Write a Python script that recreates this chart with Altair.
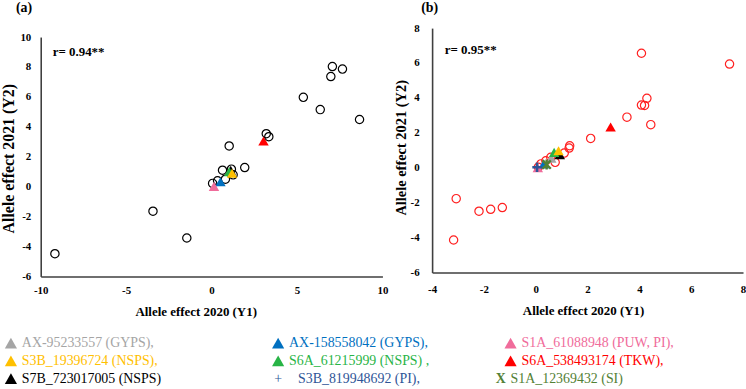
import altair as alt
import pandas as pd

FONT = "Liberation Serif"

# ---- panel (a): allele effects of all markers (open circles) ----
a_x = [-9.17, -3.43, -1.45, 1.03, 0.64, 1.16, 1.26, 1.94, 0.06, 0.35, 0.81,
       3.20, 3.35, 5.37, 6.36, 6.98, 7.07, 7.66, 8.66]
a_y = [-4.48, -1.64, -3.43, 2.72, 1.10, 1.17, 0.79, 1.28, 0.22, 0.39, 0.50,
       3.54, 3.34, 5.97, 5.15, 7.36, 8.03, 7.86, 4.49]

# ---- panel (b): allele effects of all markers (open red circles) ----
b_x = [-3.07, -3.17, -2.19, -1.74, -1.29, 4.08, 7.48, 4.29, 4.08, 4.20, 3.52,
       4.44, 2.12, 1.31, 1.29, 1.10, 0.75, 0.58, 0.39, 0.20, 0.10]
b_y = [-1.77, -4.14, -2.49, -2.38, -2.28, 6.56, 5.94, 3.98, 3.59, 3.57, 2.90,
       2.47, 1.68, 1.26, 1.13, 0.84, 0.31, 0.60, 0.40, 0.22, 0.03]

# ---- highlighted markers ----
markers = ["AX-95233557 (GYPS)", "S3B_19396724 (NSPS)", "S7B_723017005 (NSPS)",
           "AX-158558042 (GYPS)", "S6A_61215999 (NSPS)", "S3B_819948692 (PI)",
           "S1A_61088948 (PUW, PI)", "S6A_538493174 (TKW)", "S1A_12369432 (SI)"]
marker_colors = ["#a5a5a5", "#ffc000", "#000000",
                 "#0070c0", "#28b446", "#2f5597",
                 "#f06c9b", "#ff0000", "#538135"]
legend_labels = ["AX-95233557 (GYPS),", "S3B_19396724 (NSPS),", "S7B_723017005 (NSPS)",
                 "AX-158558042 (GYPS),", "S6A_61215999 (NSPS) ,", "S3B_819948692 (PI),",
                 "S1A_61088948 (PUW, PI),", "S6A_538493174 (TKW),", "S1A_12369432 (SI)"]
legend_glyph = ["tri", "tri", "tri", "tri", "tri", "plus", "tri", "tri", "x"]
legend_col = [0, 0, 0, 1, 1, 1, 2, 2, 2]
legend_row = [0, 1, 2, 0, 1, 2, 0, 1, 2]

# panel (a) triangles, in drawing order
a_tri_marker = ["AX-95233557 (GYPS)", "S7B_723017005 (NSPS)", "AX-158558042 (GYPS)",
                "S6A_61215999 (NSPS)", "S3B_19396724 (NSPS)", "S1A_61088948 (PUW, PI)",
                "S6A_538493174 (TKW)"]
a_tri_x = [1.08, 1.12, 0.52, 1.03, 1.20, 0.14, 3.04]
a_tri_y = [1.05, 1.10, 0.33, 0.99, 0.90, 0.02, 3.05]

# panel (b) triangles, in drawing order
b_tri_marker = ["AX-95233557 (GYPS)", "S7B_723017005 (NSPS)", "S6A_61215999 (NSPS)",
                "S3B_19396724 (NSPS)", "AX-158558042 (GYPS)", "S1A_61088948 (PUW, PI)",
                "S6A_538493174 (TKW)"]
b_tri_x = [0.60, 0.93, 0.71, 0.88, 0.31, 0.08, 2.89]
b_tri_y = [0.55, 0.75, 0.88, 0.97, 0.22, 0.00, 2.34]
b_plus_x, b_plus_y = [0.05], [0.03]
b_cross_x, b_cross_y = [0.42], [0.18]

r_a, r_b = "r= 0.94**", "r= 0.95**"
tag_a, tag_b = "(a)", "(b)"

color_scale = alt.Scale(domain=markers, range=marker_colors)


def axis(**kw):
    base = dict(grid=False, ticks=False, domainColor="#3f3f3f", domainWidth=1.6,
                labelFont=FONT, labelFontSize=11, labelFontWeight="bold",
                labelColor="black", labelExpr="datum.value + ''", labelOverlap=False,
                labelFlush=False, titleFont=FONT, titleFontSize=13,
                titleFontWeight="bold", titleColor="black", titleBaseline="middle")
    base.update(kw)
    return alt.Axis(**base)


def panel(cx, cy, circle_color, tri_m, tri_x, tri_y, rtext, rx, ry,
          tag, tag_dx, x_enc, y_enc, extra=()):
    circles = alt.Chart(pd.DataFrame({"x": cx, "y": cy})).mark_point(
        shape="circle", filled=False, size=70, strokeWidth=1.2, color=circle_color,
        opacity=1
    ).encode(x=x_enc, y=y_enc)
    tris = alt.Chart(pd.DataFrame({"x": tri_x, "y": tri_y, "marker": tri_m})).mark_point(
        shape="triangle-up", filled=True, size=110, opacity=1
    ).encode(x=x_enc, y=y_enc,
             color=alt.Color("marker:N", scale=color_scale, legend=None))
    rt = alt.Chart(pd.DataFrame({"x": [rx], "y": [ry], "t": [rtext]})).mark_text(
        align="left", baseline="middle", font=FONT, fontSize=13, fontWeight="bold",
        color="black"
    ).encode(x=x_enc, y=y_enc, text="t:N")
    # panel tag, drawn above the top-left corner of the plot
    tg = alt.Chart(pd.DataFrame({"t": [tag]})).mark_text(
        align="left", baseline="middle", font=FONT, fontSize=14, fontWeight="bold",
        color="black"
    ).encode(x=alt.value(tag_dx), y=alt.value(-20), text="t:N")
    return alt.layer(circles, tris, *extra, rt, tg)


# ---- panel (a): its y range starts 9 px below the panel top ----
xa = alt.X("x:Q", scale=alt.Scale(domain=[-10, 10], nice=False, zero=False),
           axis=axis(values=[-10, -5, 0, 5, 10], title="Allele effect 2020 (Y1)",
                     labelPadding=8, titleX=156, titleY=35))
ya = alt.Y("y:Q", scale=alt.Scale(domain=[-6, 10], nice=False, zero=False,
                                  range=[250, 9]),
           axis=axis(values=list(range(-6, 11, 2)), title="Allele effect 2021 (Y2)",
                     labelPadding=10, titleX=-32, titleY=131, titleFontSize=16))
panel_a = panel(a_x, a_y, "black", a_tri_marker, a_tri_x, a_tri_y,
                r_a, -9.3, 9.0, tag_a, -25, xa, ya).properties(width=344, height=250)

# ---- panel (b) ----
xb = alt.X("x:Q", scale=alt.Scale(domain=[-4, 8], nice=False, zero=False),
           axis=axis(values=list(range(-4, 9, 2)), title="Allele effect 2020 (Y1)",
                     labelPadding=11, titleX=152, titleY=38))
yb = alt.Y("y:Q", scale=alt.Scale(domain=[-6, 8], nice=False, zero=False),
           axis=axis(values=list(range(-6, 9, 2)), title="Allele effect 2021 (Y2)",
                     labelPadding=13, titleX=-31, titleY=120, titleFontSize=14.5))
plus_b = alt.Chart(pd.DataFrame({"x": b_plus_x, "y": b_plus_y,
                                 "marker": ["S3B_819948692 (PI)"]})).mark_point(
    shape="M-1,0L1,0M0,-1L0,1", filled=False, size=90, strokeWidth=2.6, opacity=1
).encode(x=xb, y=yb, color=alt.Color("marker:N", scale=color_scale, legend=None))
cross_b = alt.Chart(pd.DataFrame({"x": b_cross_x, "y": b_cross_y,
                                  "marker": ["S1A_12369432 (SI)"]})).mark_point(
    shape="M-1,-1L1,1M-1,1L1,-1M0,-1.2L0,1.2", filled=False, size=70, strokeWidth=2.4,
    opacity=1
).encode(x=xb, y=yb, color=alt.Color("marker:N", scale=color_scale, legend=None))
panel_b = panel(b_x, b_y, "#ff2020", b_tri_marker, b_tri_x, b_tri_y,
                r_b, -3.51, 6.75, tag_b, -11, xb, yb,
                extra=(plus_b, cross_b)).properties(width=313, height=246)

# ---- marker key below the panels (x positions relative to panel (a)'s plot) ----
leg = pd.DataFrame({"col": legend_col, "row": legend_row, "marker": markers,
                    "label": legend_labels, "glyph": legend_glyph})
lx = alt.X("col:Q", scale=alt.Scale(domain=[0, 1, 2], range=[-30, 239, 473]), axis=None)
ly = alt.Y("row:Q", scale=alt.Scale(domain=[-0.4, 2.4], reverse=True), axis=None)
lcol = alt.Color("marker:N", scale=color_scale, legend=None)
base = alt.Chart(leg).encode(x=lx, y=ly, color=lcol)
key_tri = base.transform_filter("datum.glyph == 'tri'").mark_point(
    shape="triangle-up", filled=True, size=150, opacity=1)
key_tri_txt = base.transform_filter("datum.glyph == 'tri'").mark_text(
    align="left", baseline="middle", dx=11, font=FONT, fontSize=14).encode(text="label:N")
key_plus = base.transform_filter("datum.glyph == 'plus'").mark_text(
    align="center", baseline="middle", font=FONT, fontSize=14, text="+")
key_plus_txt = base.transform_filter("datum.glyph == 'plus'").mark_text(
    align="left", baseline="middle", dx=20, font=FONT, fontSize=14).encode(text="label:N")
key_x = base.transform_filter("datum.glyph == 'x'").mark_text(
    align="center", baseline="middle", dx=-10, font=FONT, fontSize=14,
    fontWeight="bold", text="X")
key_x_txt = base.transform_filter("datum.glyph == 'x'").mark_text(
    align="left", baseline="middle", dx=0, font=FONT, fontSize=14).encode(text="label:N")
key = alt.layer(key_tri, key_tri_txt, key_plus, key_plus_txt, key_x, key_x_txt).properties(
    width=690, height=50)

chart = alt.vconcat(
    alt.hconcat(panel_a, panel_b, spacing=5),
    key, spacing=18
).configure_view(stroke=None).properties(
    padding={"left": 1, "top": 0, "right": 0, "bottom": 0},
    background="white")

chart.save("out.html", embed_options={"renderer": "svg", "actions": False})
